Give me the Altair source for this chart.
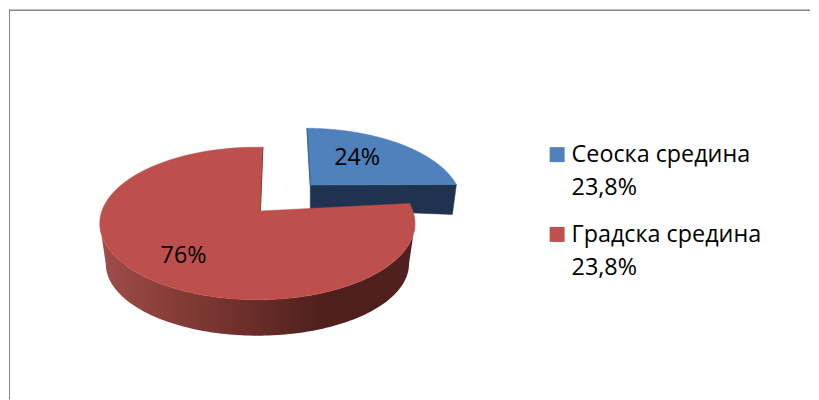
import math
import altair as alt
import pandas as pd

categories = ["Сеоска средина", "Градска средина"]
shares = [23.8, 76.2]
slice_labels = ["24%", "76%"]
legend_values = ["23,8%", "23,8%"]
colors = ["#4f81bd", "#c0504d"]

FONT = "Open Sans"
FS = 23.4

xs = alt.Scale(domain=[8, 811], nice=False, zero=False)
ys = alt.Scale(domain=[400, 8], nice=False, zero=False)
X = alt.X("x:Q", scale=xs, axis=None)
Y = alt.Y("y:Q", scale=ys, axis=None)
X2 = alt.X2("x2:Q")
Y2 = alt.Y2("y2:Q")

# pie geometry in the picture's perspective
CX, CY, RX, RY = 257.0, 223.5, 158.0, 76.5
BCX, BCY, BRX, BRY = 257.0, 264.0, 152.0, 72.0
APEX = (260.0, 211.0)
T0 = 88.0
split = T0 - shares[0] * 3.6 * 0.85


def arc(cx, cy, rx, ry, a, b, n=120):
    out = []
    for i in range(n + 1):
        t = math.radians(a + (b - a) * i / n)
        out.append((cx + rx * math.cos(t), cy - ry * math.sin(t)))
    return out


def poly(points, **mark):
    df = pd.DataFrame(points, columns=["x", "y"])
    df["i"] = range(len(df))
    df = pd.concat([df, df.iloc[[0]].assign(i=len(df))])
    return alt.Chart(df).mark_line(**mark).encode(x=X, y=Y, order=alt.Order("i:Q"))


def edge(points, **mark):
    df = pd.DataFrame(points, columns=["x", "y"])
    df["i"] = range(len(df))
    return alt.Chart(df).mark_line(**mark).encode(x=X, y=Y, order=alt.Order("i:Q"))


DX, DY = 47.0, -19.0
blue_top = [(APEX[0] + 50, APEX[1] - 26)] + arc(CX + DX, CY + DY, RX, RY, 89.0, split)
br = blue_top[-1]
blue_wall = [blue_top[0], br, (br[0] - 4, br[1] + 30), (blue_top[0][0], blue_top[0][1] + 24)]

red_end = T0 + 360 - shares[0] * 3.6 * 0.85 * 1.0
red_top = [APEX] + arc(CX, CY, RX, RY, T0, red_end, 240)
red_wall = arc(CX, CY, RX, RY, 180, 360) + arc(BCX, BCY, BRX, BRY, 360, 180)

wall_gradient = alt.Gradient(
    gradient="linear", x1=0, x2=1, y1=0, y2=0,
    stops=[
        alt.GradientStop(color="#a04d4a", offset=0.0),
        alt.GradientStop(color="#8a3f3b", offset=0.2),
        alt.GradientStop(color="#6e2f2b", offset=0.45),
        alt.GradientStop(color="#4e1f1c", offset=0.72),
        alt.GradientStop(color="#4f201d", offset=1.0),
    ],
)

frame_h = alt.Chart(pd.DataFrame({"x": [8], "x2": [811], "y": [9.8]})).mark_rule(
    color="#868686", strokeWidth=1.5).encode(x=X, x2=X2, y=Y)
frame_v = alt.Chart(pd.DataFrame({"x": [8.5], "y": [9], "y2": [400]})).mark_rule(
    color="#868686", strokeWidth=1).encode(x=X, y=Y, y2=Y2)

legend_boxes = alt.Chart(pd.DataFrame({
    "cat": categories, "x": [550, 550], "x2": [565, 565],
    "y": [147, 227], "y2": [162, 242], "c": colors,
})).mark_rect().encode(x=X, x2=X2, y=Y, y2=Y2, color=alt.Color("c:N", scale=None))

legend_text = alt.Chart(pd.DataFrame({
    "t": [categories[0], legend_values[0], categories[1], legend_values[1]],
    "x": [572, 572, 572, 572], "y": [162, 195, 242, 275],
})).mark_text(align="left", baseline="alphabetic", font=FONT, fontSize=FS, color="#000000").encode(
    x=X, y=Y, text="t:N")

pie_text = alt.Chart(pd.DataFrame({
    "t": slice_labels, "x": [357, 183], "y": [165, 263],
})).mark_text(align="center", baseline="alphabetic", font=FONT, fontSize=FS, color="#000000").encode(
    x=X, y=Y, text="t:N")

chart = alt.layer(
    frame_h, frame_v,
    poly(blue_wall, fill="#1f3350", stroke="#1f3350", strokeWidth=0.5),
    poly(blue_top, fill=colors[0], stroke=colors[0], strokeWidth=0.5),
    edge([blue_top[1], blue_top[0]], color="#3b6394", strokeWidth=1.2),
    poly(red_wall, fill=wall_gradient, strokeOpacity=0, strokeWidth=0),
    poly(red_top, fill="#bd4f4c", stroke="#bd4f4c", strokeWidth=0.5),
    edge([red_top[1], APEX], color="#8e3b38", strokeWidth=1.0),
    pie_text, legend_boxes, legend_text,
).properties(width=803, height=392, padding=0, background="white").configure_view(stroke=None)

chart.save("out.html", embed_options={"renderer": "svg", "actions": False})
